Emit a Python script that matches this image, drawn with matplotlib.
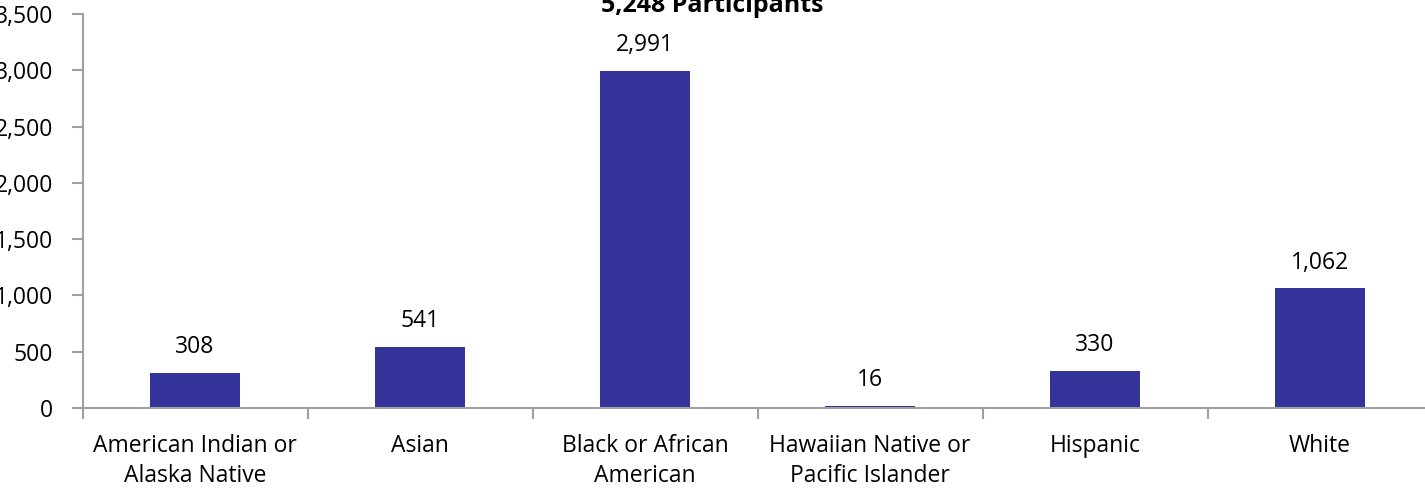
import numpy as np
import matplotlib.pyplot as plt

# DATA
categories = ["American Indian or\nAlaska Native", "Asian", "Black or African\nAmerican",
              "Hawaiian Native or\nPacific Islander", "Hispanic", "White"]
participants = [308, 541, 2991, 16, 330, 1062]
y_ticks = [0, 500, 1000, 1500, 2000, 2500, 3000, 3500]
title = "5,248 Participants"

plt.rcParams['font.family'] = ['Open Sans', 'DejaVu Sans']
plt.rcParams['font.size'] = 16.5

fig = plt.figure(figsize=(14.25, 5), dpi=100)
# axes runs past the right edge, like the cropped original
ax = fig.add_axes([82.5/1425, 92/500, 1350/1425, 394/500])

x = np.arange(len(categories))
ax.bar(x, participants, width=0.4, color='#333399', zorder=2)

for xi, v in zip(x, participants):
    ax.annotate(f"{v:,}", (xi, v), xytext=(0, 10), textcoords='offset points',
                ha='center', va='bottom')

ax.set_xlim(-0.5, len(categories) - 0.5)
ax.set_ylim(0, 3500)
ax.set_yticks(y_ticks)
ax.set_yticklabels([f"{t:,}" for t in y_ticks])

# category labels sit between the boundary ticks
ax.set_xticks(np.arange(len(categories) + 1) - 0.5)
ax.set_xticklabels([])
ax.set_xticks(x, minor=True)
ax.set_xticklabels(categories, minor=True, linespacing=1.3)
ax.tick_params(axis='x', which='minor', length=0, pad=19)
ax.tick_params(axis='x', which='major', length=8, color='#a0a0a0', width=1.5)
ax.tick_params(axis='y', length=8, color='#a0a0a0', width=1.5, pad=13)

for s in ['top', 'right']:
    ax.spines[s].set_visible(False)
for s in ['left', 'bottom']:
    ax.spines[s].set_color('#a0a0a0')
    ax.spines[s].set_linewidth(1.5)

fig.text(712/1425, 1 - 6/500, title, ha='center', va='center',
         fontsize=18, fontweight='bold')

fig.savefig('out.png', dpi=100)
